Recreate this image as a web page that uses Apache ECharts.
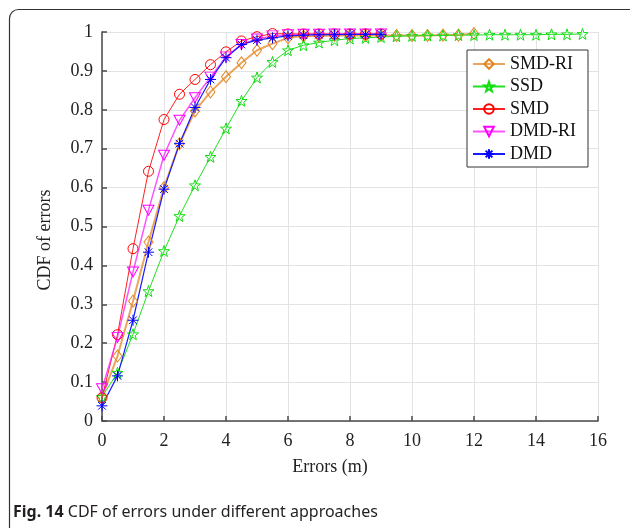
<!DOCTYPE html>
<html>
<head>
<meta charset="utf-8">
<script src="https://cdn.jsdelivr.net/npm/echarts@6/dist/echarts.min.js"></script>
<style>
  html, body { margin: 0; padding: 0; background: #fff; }
  #chart { width: 630px; height: 528px; }
</style>
</head>
<body>
<div id="chart"></div>
<script>
// Error values (m), sampled every 0.5 m
const errorsX = [0, 0.5, 1, 1.5, 2, 2.5, 3, 3.5, 4, 4.5, 5, 5.5, 6, 6.5, 7, 7.5,
                 8, 8.5, 9, 9.5, 10, 10.5, 11, 11.5, 12, 12.5, 13, 13.5, 14, 14.5, 15, 15.5];

// CDF values
const smdRi = [0.062, 0.167, 0.308, 0.46, 0.60, 0.713, 0.797, 0.846, 0.885, 0.921, 0.953, 0.970,
               0.985, 0.989, 0.990, 0.991, 0.991, 0.991, 0.991, 0.991, 0.991, 0.991, 0.992, 0.992, 0.996];
const ssd = [0.062, 0.124, 0.223, 0.334, 0.437, 0.527, 0.606, 0.679, 0.752, 0.823, 0.883, 0.923,
             0.953, 0.966, 0.973, 0.979, 0.983, 0.985, 0.987, 0.989, 0.990, 0.991, 0.991, 0.992,
             0.992, 0.993, 0.993, 0.993, 0.993, 0.994, 0.994, 0.995];
const smd = [0.060, 0.222, 0.443, 0.642, 0.775, 0.840, 0.878, 0.916, 0.949, 0.977, 0.988, 0.996,
             0.995, 0.995, 0.995, 0.995, 0.995, 0.995, 0.995];
const dmdRi = [0.083, 0.215, 0.383, 0.542, 0.683, 0.773, 0.831, 0.884, 0.936, 0.968, 0.982, 0.990,
               0.993, 0.994, 0.994, 0.995, 0.995, 0.995, 0.995];
const dmd = [0.039, 0.116, 0.259, 0.434, 0.596, 0.713, 0.806, 0.878, 0.934, 0.968, 0.979, 0.985,
             0.990, 0.992, 0.993, 0.993, 0.994, 0.994, 0.994];

const seriesNames = ['SMD-RI', 'SSD', 'SMD', 'DMD-RI', 'DMD'];

const serif = "'Liberation Serif', 'DejaVu Serif', serif";

// marker shapes
const starPath = (function () {
    let p = '';
    for (let k = 0; k < 10; k++) {
        const r = k % 2 ? 0.4 : 1;
        const a = -Math.PI / 2 + k * Math.PI / 5;
        p += (k ? 'L' : 'M') + (r * Math.cos(a)).toFixed(3) + ',' + (r * Math.sin(a)).toFixed(3);
    }
    return 'path://' + p + 'Z';
})();
const asteriskPath = 'path://M0,-1L0,1M-1,0L1,0M-0.7,-0.7L0.7,0.7M-0.7,0.7L0.7,-0.7';

function pairs(ys) {
    return ys.map((y, i) => [errorsX[i], y]);
}

function makeSeries(name, ys, lineColor, markColor, lineWidth, symbol, size, extra) {
    return Object.assign({
        name: name,
        type: 'line',
        data: pairs(ys),
        symbol: symbol,
        symbolSize: size,
        showAllSymbol: true,
        lineStyle: { color: lineColor, width: lineWidth },
        itemStyle: { color: 'rgba(0,0,0,0)', borderColor: markColor, borderWidth: 1 },
        emphasis: { disabled: true },
        z: 2
    }, extra || {});
}

const chart = echarts.init(document.getElementById('chart'));

const option = {
    animation: false,
    backgroundColor: '#fff',
    grid: { left: 102, top: 32, right: 32, bottom: 107, containLabel: false },
    xAxis: {
        type: 'value',
        min: 0, max: 16, interval: 2,
        axisLine: { show: true, lineStyle: { color: '#4a4a4a', width: 1.5 } },
        axisTick: { show: true, inside: true, length: 5, lineStyle: { color: '#4a4a4a', width: 1.5 } },
        axisLabel: { margin: 11, fontFamily: serif, fontSize: 18, color: '#222' },
        splitLine: { show: true, lineStyle: { color: '#e3e3e3', width: 1 } }
    },
    yAxis: {
        type: 'value',
        min: 0, max: 1, interval: 0.1,
        axisLine: { show: true, lineStyle: { color: '#4a4a4a', width: 1.5 } },
        axisTick: { show: true, inside: true, length: 5, lineStyle: { color: '#4a4a4a', width: 1.5 } },
        axisLabel: { margin: 9, fontFamily: serif, fontSize: 18, color: '#222' },
        splitLine: { show: true, lineStyle: { color: '#e3e3e3', width: 1 } }
    },
    legend: {
        orient: 'vertical',
        left: 467, top: 50,
        data: seriesNames,
        backgroundColor: '#fff',
        borderColor: '#333',
        borderWidth: 1,
        padding: [3, 12, 2, 5],
        itemGap: 0.5,
        itemWidth: 32,
        itemHeight: 12,
        textStyle: { fontFamily: serif, fontSize: 18, color: '#111', lineHeight: 22 },
        selectedMode: false
    },
    graphic: [
        {
            type: 'rect',
            shape: { x: 9.5, y: 9.5, width: 700, height: 600, r: 9 },
            style: { fill: null, stroke: '#333', lineWidth: 1.2 },
            silent: true, z: -1
        },
        {
            type: 'text',
            x: 45, y: 240, rotation: Math.PI / 2,
            style: { text: 'CDF of errors', font: '18px ' + serif, fill: '#222', align: 'center', verticalAlign: 'middle' }
        },
        {
            type: 'text',
            x: 330, y: 467,
            style: { text: 'Errors (m)', font: '18px ' + serif, fill: '#222', align: 'center', verticalAlign: 'middle' }
        },
        {
            type: 'text',
            x: 13, y: 512,
            style: {
                text: '{b|Fig. 14} CDF of errors under different approaches',
                font: "16px 'Noto Sans', 'Open Sans', sans-serif",
                fill: '#231f20',
                verticalAlign: 'middle',
                rich: {
                    b: { fontWeight: 'bold', fontFamily: "'Noto Sans', 'Open Sans', sans-serif", fontSize: 16, fill: '#231f20' }
                }
            }
        }
    ],
    series: [
        makeSeries('SMD-RI', smdRi, 'rgba(228,135,40,0.75)', '#e3861e', 2, 'diamond', [9, 12]),
        makeSeries('SSD', ssd, '#22e022', '#11dd11', 1, starPath, 11),
        makeSeries('SMD', smd, '#ff2020', '#ff0000', 1, 'circle', 10),
        makeSeries('DMD-RI', dmdRi, 'rgba(255,40,255,0.8)', '#ff00ff', 1.5, 'triangle', [11, 10], { symbolRotate: 180 }),
        makeSeries('DMD', dmd, '#1a1aff', '#0000ff', 1.2, asteriskPath, 11)
    ]
};

chart.setOption(option);
</script>
</body>
</html>
